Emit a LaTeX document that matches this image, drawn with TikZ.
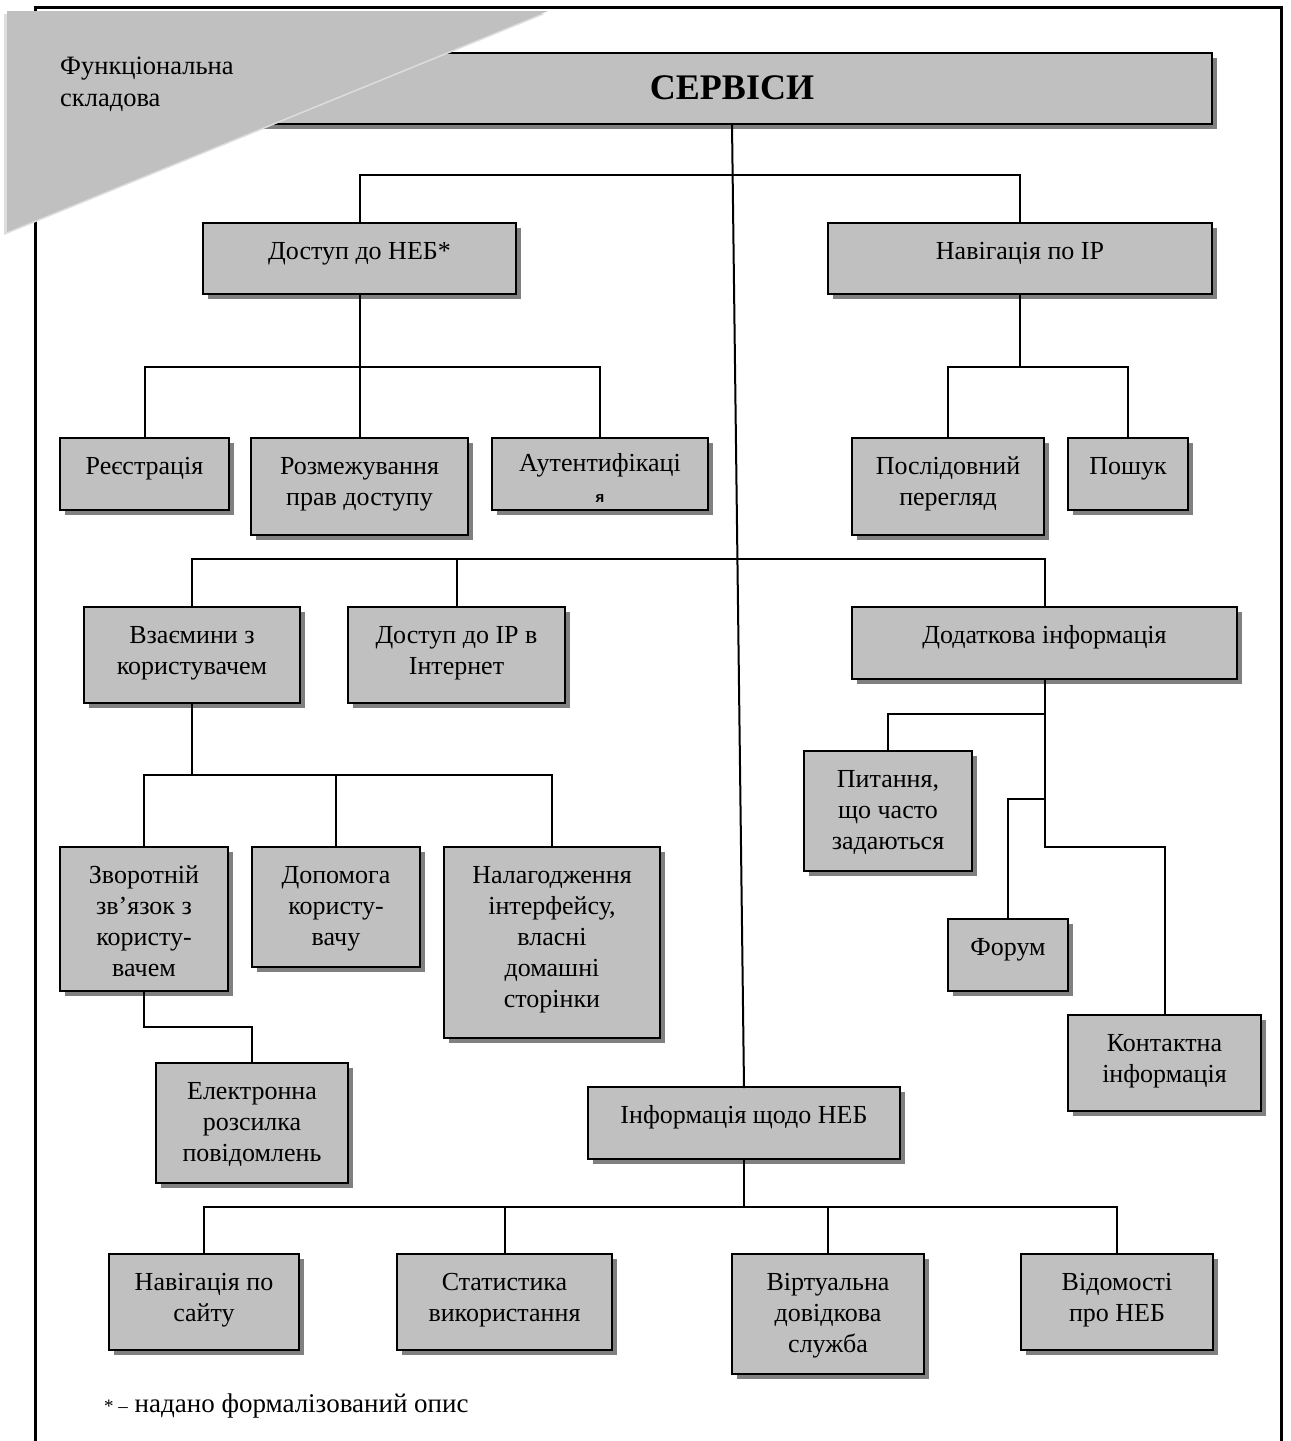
\documentclass[tikz,border=0pt]{standalone}
\usepackage{fontspec}
\setmainfont{Liberation Serif}
\newfontfamily\sansfont{Liberation Sans}
\usepackage{xcolor}
\usetikzlibrary{shadows}
\definecolor{boxgray}{HTML}{C0C0C0}
\definecolor{shadowgray}{HTML}{808080}
\definecolor{edgegray}{HTML}{DDDDDD}
\tikzstyle{block} = [rectangle, draw, line width=2.4pt, fill=boxgray, anchor=north,
    align=center, inner xsep=2pt, inner ysep=0pt, outer sep=0pt, text height=36pt,
    font=\fontsize{26}{31}\selectfont,
    drop shadow={shadow xshift=5pt, shadow yshift=-5pt, fill=shadowgray, opacity=1}]
\tikzstyle{titleblock} = [font=\fontsize{36}{42}\selectfont\bfseries,
    text height=46pt, text depth=25pt]
\tikzstyle{line} = [draw, line width=2pt, line cap=rect]
\begin{document}
\begin{tikzpicture}[x=1pt, y=1pt]
    \useasboundingbox (0,0) rectangle (1291,-1441);
    % Frame
    \draw [line width=3pt] (35,-1441) -- (35,-7) -- (1281,-7) -- (1281,-1441);
    % Place nodes
    \node [block, titleblock, minimum width=960pt] (servisy) at (732,-53) {СЕРВІСИ};
    \fill [edgegray] (4,-14) -- (545,-14) -- (4,-235) -- cycle;
    \fill [boxgray] (7,-11) -- (548,-11) -- (7,-232) -- cycle;
    \node [anchor=base west, align=left, inner sep=0pt, font=\fontsize{26.5}{32}\selectfont] (layer) at (60,-106) {Функціональна\\складова};

    \node [block, minimum width=313pt, text depth=35pt] (dostup) at (359.5,-223) {Доступ до НЕБ*};
    \node [block, minimum width=384pt, text depth=35pt] (navig) at (1020,-223) {Навігація по ІР};

    \node [block, minimum width=169pt, text depth=36pt] (reestr) at (144.5,-438) {Реєстрація};
    \node [block, minimum width=217pt, text height=67pt, text depth=30pt] (rozmezh) at (359.5,-438) {Розмежування\\прав доступу};
    \node [block, minimum width=216pt, text height=64pt, text depth=8pt] (auth) at (600,-438) {Аутентифікаці\\{\sansfont\bfseries\fontsize{15}{18}\selectfont я}};
    \node [block, minimum width=192pt, text height=67pt, text depth=30pt] (poslid) at (948,-438) {Послідовний\\перегляд};
    \node [block, minimum width=120pt, text depth=36pt] (poshuk) at (1128,-438) {Пошук};

    \node [block, minimum width=216pt, text height=67pt, text depth=29pt] (vzaiem) at (192,-607) {Взаємини з\\користувачем};
    \node [block, minimum width=217pt, text height=67pt, text depth=29pt] (dostupIP) at (456.5,-607) {Доступ до ІР в\\Інтернет};
    \node [block, minimum width=385pt, text depth=36pt] (dodatk) at (1044.5,-607) {Додаткова інформація};

    \node [block, minimum width=168pt, text height=129pt, text depth=15pt] (zvorot) at (144,-847) {Зворотній\\зв’язок з\\користу-\\вачем};
    \node [block, minimum width=168pt, text height=98pt, text depth=22pt] (dopomoga) at (336,-847) {Допомога\\користу-\\вачу};
    \node [block, minimum width=216pt, text height=160pt, text depth=31pt] (nalag) at (552,-847) {Налагодження\\інтерфейсу,\\власні\\домашні\\сторінки};
    \node [block, minimum width=192pt, text height=98pt, text depth=22pt] (elektr) at (252,-1063) {Електронна\\розсилка\\повідомлень};

    \node [block, minimum width=168pt, text height=98pt, text depth=22pt] (pytannia) at (888,-751) {Питання,\\що часто\\задаються};
    \node [block, minimum width=120pt, text depth=36pt] (forum) at (1008,-919) {Форум};
    \node [block, minimum width=193pt, text height=67pt, text depth=29pt] (kontakt) at (1164.5,-1015) {Контактна\\інформація};

    \node [block, minimum width=312pt, text depth=36pt] (info) at (744,-1087) {Інформація щодо НЕБ};
    \node [block, minimum width=190pt, text height=67pt, text depth=29pt] (navsait) at (204,-1254) {Навігація по\\сайту};
    \node [block, minimum width=215pt, text height=67pt, text depth=29pt] (statyst) at (504.5,-1254) {Статистика\\використання};
    \node [block, minimum width=192pt, text height=98pt, text depth=22pt] (virtual) at (828,-1254) {Віртуальна\\довідкова\\служба};
    \node [block, minimum width=192pt, text height=67pt, text depth=29pt] (vidom) at (1117,-1254) {Відомості\\про НЕБ};

    \node [anchor=base west, inner sep=0pt, font=\fontsize{27}{32}\selectfont] (note) at (104,-1412) {{\fontsize{19}{20}\selectfont * –} надано формалізований опис};

    % Connectors
    \path [line] (servisy.south) -- (info.north);
    \path [line] (dostup.north) -- ++(0,48) -| (navig.north);
    \path [line] (reestr.north) -- ++(0,71) -| (auth.north);
    \path [line] (dostup.south) -- (rozmezh.north);
    \path [line] (poslid.north) -- ++(0,71) -| (poshuk.north);
    \path [line] (navig.south) -- ++(0,-73);
    \path [line] (vzaiem.north) -- ++(0,48) -| (dodatk.north);
    \path [line] (dostupIP.north) -- ++(0,48);
    \path [line] (zvorot.north) -- ++(0,72) -| (nalag.north);
    \path [line] (dopomoga.north) -- ++(0,72);
    \path [line] (vzaiem.south) -- ++(0,-72);
    \path [line] (zvorot.south) -- ++(0,-36) -| (elektr.north);
    \path [line] (dodatk.south) -- ++(0,-168) -| (kontakt.north);
    \path [line] (pytannia.north) -- ++(0,37) -| (dodatk.south);
    \path [line] (forum.north) -- ++(0,120) -| (dodatk.south);
    \path [line] (navsait.north) -- ++(0,47) -| (vidom.north);
    \path [line] (statyst.north) -- ++(0,47);
    \path [line] (virtual.north) -- ++(0,47);
    \path [line] (info.south) -- ++(0,-48);
\end{tikzpicture}
\end{document}
